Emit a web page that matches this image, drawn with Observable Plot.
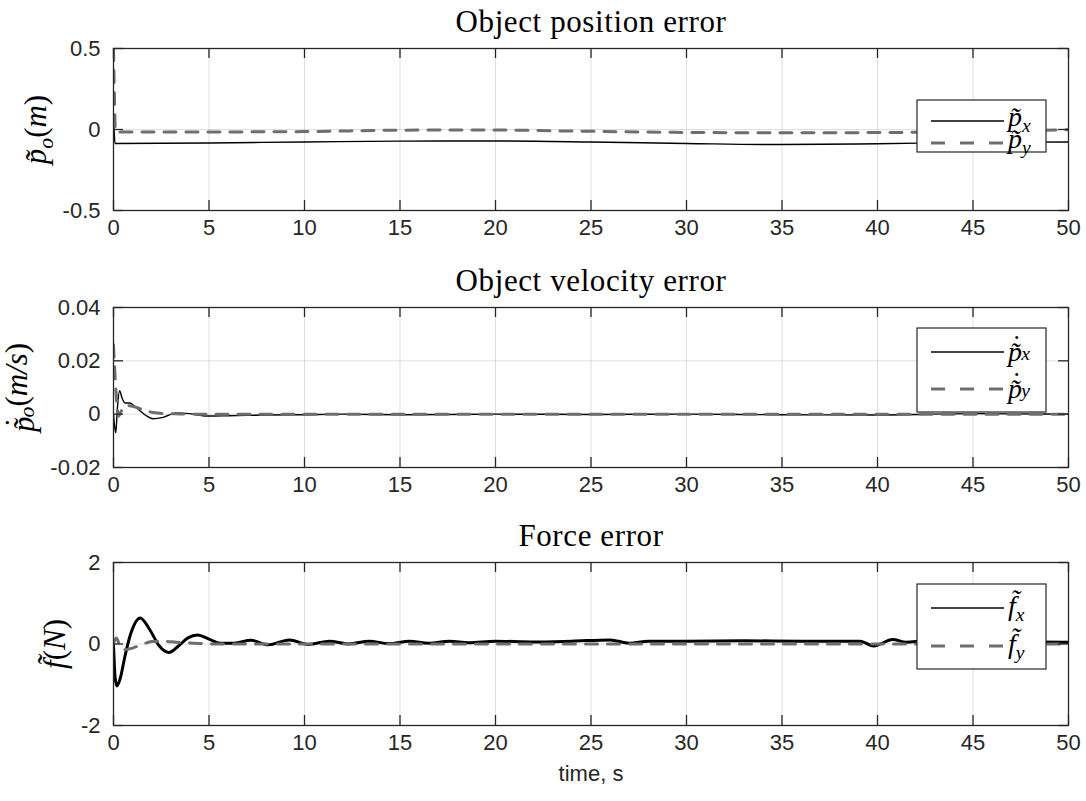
<!DOCTYPE html>
<html><head><meta charset="utf-8">
<script src="https://cdn.jsdelivr.net/npm/d3@7"></script>
<script src="https://cdn.jsdelivr.net/npm/@observablehq/plot@0.6"></script>
<style>
body{margin:0;background:#fff;}
#chart{width:1086px;height:801px;}
#chart svg{display:block;}
</style></head><body><div id="chart"></div>
<script>
// ---------- data ----------
const xTicks = [0,5,10,15,20,25,30,35,40,45,50];

// Object position error (m)
const posTicks = [-0.5, 0, 0.5];
const pxT = [0, 0.03, 0.08, 5, 10, 15, 20, 25, 30, 35, 40, 45, 50];
const pxV = [0.06, 0.0, -0.086, -0.083, -0.077, -0.072, -0.071, -0.077, -0.086, -0.093, -0.088, -0.079, -0.077];
const pyT = [0, 0.05, 0.1, 5, 10, 15, 20, 23, 30, 35, 40, 45, 50];
const pyV = [0.5, 0.2, -0.015, -0.015, -0.013, -0.004, -0.003, -0.008, -0.018, -0.02, -0.019, -0.012, -0.002];

// Object velocity error (m/s)
const velTicks = [-0.02, 0, 0.02, 0.04];
const vxT = [0, 0.05, 0.12, 0.2, 0.32, 0.45, 0.6, 0.85, 1.1, 1.4, 1.7, 2.05, 2.6, 3.3, 4.0, 4.9, 6, 8, 10, 12, 15, 20, 25, 30, 35, 40, 45, 50];
const vxV = [0, -0.004, -0.007, 0.002, 0.0088, 0.006, 0.0042, 0.0042, 0.003, 0.0012, -0.0005, -0.0017, -0.0012, 0.0005, 0.0002, -0.0007, -0.0006, -0.0003, -0.0002, 0, -0.0002, 0, -0.0001, 0, -0.0002, -0.0003, 0.0002, 0];
const vyT = [0, 0.1, 0.27, 0.5, 0.8, 1.2, 1.6, 2.1, 2.8, 3.5, 4.5, 10, 20, 30, 40, 50];
const vyV = [0.026, 0.012, -0.0008, 0.0025, 0.0032, 0.0025, 0.0015, 0.0006, 0.0002, 0.0001, 0, 0, 0, 0, 0, 0];

// Force error (N)
const forceTicks = [-2, 0, 2];
const fxT = [0, 0.08, 0.18, 0.35, 0.6, 0.9, 1.4, 1.9, 2.4, 2.9, 3.4, 3.9, 4.4, 5.0, 5.6, 6.3, 7.2, 8.1, 9.2, 10.2, 11.3, 12.3, 13.4, 14.4, 15.5, 16.5, 17.6, 18.6, 20, 22, 24, 26, 27, 28, 30, 33, 36, 39.1, 39.8, 40.8, 41.5, 42.5, 44, 46, 48, 50];
const fxV = [0, -0.8, -1.03, -0.85, -0.3, 0.25, 0.64, 0.35, -0.05, -0.21, -0.05, 0.15, 0.22, 0.12, 0.02, 0.02, 0.09, -0.02, 0.1, -0.01, 0.07, 0.0, 0.07, 0.01, 0.07, 0.02, 0.07, 0.03, 0.07, 0.05, 0.07, 0.1, 0.02, 0.07, 0.07, 0.08, 0.07, 0.07, -0.05, 0.11, 0.04, 0.08, 0.05, 0.07, 0.05, 0.04];
const fyT = [0, 0.15, 0.3, 0.6, 1.0, 1.5, 2.0, 2.6, 3.3, 4.2, 5.5, 8, 12, 20, 30, 40, 50];
const fyV = [0, 0.15, 0.0, -0.14, -0.1, -0.01, 0.06, 0.07, 0.04, 0.02, 0.0, 0, 0, 0, 0, 0, 0];

const titles = ["Object position error", "Object velocity error", "Force error"];
const xLabel = "time, s";

// ---------- rendering ----------
const W = 1086, ML = 113, MR = 18;
const frameW = W - ML - MR;
const SANS = "'Liberation Sans', Arial, Helvetica, sans-serif";
const SERIF = "'Liberation Serif', 'Times New Roman', serif";
const DARK = "#262626";
const GRAY = "#6e6e6e";
const FS = 31;   // y-label math font size
const LFS = 28;  // legend math font size

const tilde = "\u0303";
const P = [{t: "p" + tilde}];
const PD = [{t: "p" + tilde}, {t: "\u02D9", up: true, dx: -0.36, dy: -0.24}, {t: "", dx: 0.02, dy: 0.24}];

const panels = [
  {title: titles[0], ticks: posTicks, height: 257, mt: 48, mb: 47, s1: [pxT, pxV], s2: [pyT, pyV], w1: 1.4,
   ylabelDx: -77, ylabel: [...P, {t: "o", sub: true}, {t: "(", up: true}, {t: "m"}, {t: ")", up: true}],
   legend: {top: 52, h: 52, l1: 21, l2: 43, off: 5,
     a: [...P, {t: "x", sub: true}], b: [...P, {t: "y", sub: true}]}},
  {title: titles[1], ticks: velTicks, height: 256, mt: 50, mb: 46, s1: [vxT, vxV], s2: [vyT, vyV], w1: 1.4,
   ylabelDx: -89, ylabel: [...PD, {t: "o", sub: true}, {t: "(", up: true}, {t: "m/s"}, {t: ")", up: true}],
   legend: {top: 21, h: 84, l1: 24, l2: 61, off: 9,
     a: [...PD, {t: "x", sub: true}], b: [...PD, {t: "y", sub: true}]}},
  {title: titles[2], ticks: forceTicks, height: 288, mt: 49, mb: 76, s1: [fxT, fxV], s2: [fyT, fyV], w1: 3,
   ylabelDx: -58, ylabel: [{t: "f" + tilde}, {t: "(", up: true}, {t: "N"}, {t: ")", up: true}], xlabel: true,
   legend: {top: 22, h: 85, l1: 24, l2: 62, off: 7,
     a: [{t: "f" + tilde}, {t: "x", sub: true}], b: [{t: "f" + tilde}, {t: "y", sub: true}]}}
];

function appendMath(textSel, parts, fs) {
  let shifted = false;
  parts.forEach(p => {
    const ts = textSel.append("tspan").text(p.t).attr("font-style", p.up ? "normal" : "italic");
    let dy = p.dy ? p.dy * fs : 0;
    if (p.dx) ts.attr("dx", p.dx * fs);
    if (p.sub) {
      ts.attr("font-size", 0.7 * fs);
      if (!shifted) { dy += 0.22 * fs; shifted = true; }
    } else if (shifted) {
      dy -= 0.22 * fs; shifted = false;
    }
    if (dy) ts.attr("dy", dy);
  });
}

const root = d3.select("#chart");

panels.forEach(p => {
  const frameH = p.height - p.mt - p.mb;
  const d1 = p.s1[0].map((t, i) => ({t, v: p.s1[1][i]}));
  const d2 = p.s2[0].map((t, i) => ({t, v: p.s2[1][i]}));
  const marks = [
    Plot.gridX(xTicks, {stroke: "#000", strokeOpacity: 0.13, strokeWidth: 1}),
    Plot.gridY(p.ticks, {stroke: "#000", strokeOpacity: 0.13, strokeWidth: 1}),
    Plot.lineY(d1, {x: "t", y: "v", stroke: "#000", strokeWidth: p.w1, curve: "monotone-x", clip: "frame"}),
    Plot.lineY(d2, {x: "t", y: "v", stroke: GRAY, strokeWidth: 3, strokeDasharray: "12,10", curve: "monotone-x", clip: "frame"}),
    Plot.tickX(xTicks, {x: d => d, insetBottom: frameH - 10, stroke: DARK, strokeWidth: 1.3}),
    Plot.tickX(xTicks, {x: d => d, insetTop: frameH - 10, stroke: DARK, strokeWidth: 1.3}),
    Plot.tickY(p.ticks, {y: d => d, insetRight: frameW - 10, stroke: DARK, strokeWidth: 1.3}),
    Plot.tickY(p.ticks, {y: d => d, insetLeft: frameW - 10, stroke: DARK, strokeWidth: 1.3}),
    Plot.frame({stroke: DARK, strokeWidth: 1.3}),
    Plot.axisX(xTicks, {tickSize: 0, tickPadding: 9, tickFormat: d => String(d), fontSize: 22, label: null, fill: DARK}),
    Plot.axisY(p.ticks, {tickSize: 0, tickPadding: 13, tickFormat: d => String(d), fontSize: 22, label: null, fill: DARK}),
    Plot.text([p.title], {text: d => d, frameAnchor: "top", lineAnchor: "middle", textAnchor: "middle", dy: -26, fontSize: 31, fontFamily: SERIF, fill: "#000", className: "ttl"}),
    Plot.text(["ylabel"], {text: d => d, frameAnchor: "left", lineAnchor: "middle", textAnchor: "middle", dx: p.ylabelDx, rotate: -90, fontSize: FS, fontFamily: SERIF, fill: "#000", className: "ylab"})
  ];
  if (p.xlabel) marks.push(Plot.text([xLabel], {text: d => d, frameAnchor: "bottom", lineAnchor: "middle", textAnchor: "middle", dy: 48, fontSize: 22, fontFamily: SANS, fill: DARK}));
  const svg = Plot.plot({
    width: W, height: p.height,
    marginLeft: ML, marginRight: MR, marginTop: p.mt, marginBottom: p.mb,
    x: {domain: [0, 50]},
    y: {domain: [p.ticks[0], p.ticks[p.ticks.length - 1]]},
    style: {fontFamily: SANS, color: DARK, background: "#fff", overflow: "visible"},
    marks
  });
  const s = d3.select(svg);
  s.selectAll(".ttl text").attr("letter-spacing", 0.6);
  const yl = s.select(".ylab text");
  yl.text(null);
  appendMath(yl, p.ylabel, FS);
  // legend
  const L = p.legend;
  const bx = 917, bw = 129, by = p.mt + L.top;
  const g = s.append("g").attr("text-anchor", "start");
  g.append("rect").attr("x", bx).attr("y", by).attr("width", bw).attr("height", L.h)
    .attr("fill", "#fff").attr("stroke", DARK).attr("stroke-width", 1.2);
  g.append("line").attr("x1", 931).attr("x2", 1004).attr("y1", by + L.l1).attr("y2", by + L.l1)
    .attr("stroke", "#000").attr("stroke-width", 1.4);
  g.append("line").attr("x1", 931).attr("x2", 1004).attr("y1", by + L.l2).attr("y2", by + L.l2)
    .attr("stroke", GRAY).attr("stroke-width", 3).attr("stroke-dasharray", "14,15");
  [[L.l1, L.a], [L.l2, L.b]].forEach(([ly, parts]) => {
    const lt = g.append("text").attr("x", 1008).attr("y", by + ly + L.off)
      .attr("font-family", SERIF).attr("font-size", LFS).attr("fill", "#000").attr("text-anchor", "start");
    appendMath(lt, parts, LFS);
  });
  root.node().appendChild(svg);
});
</script>
</body></html>
